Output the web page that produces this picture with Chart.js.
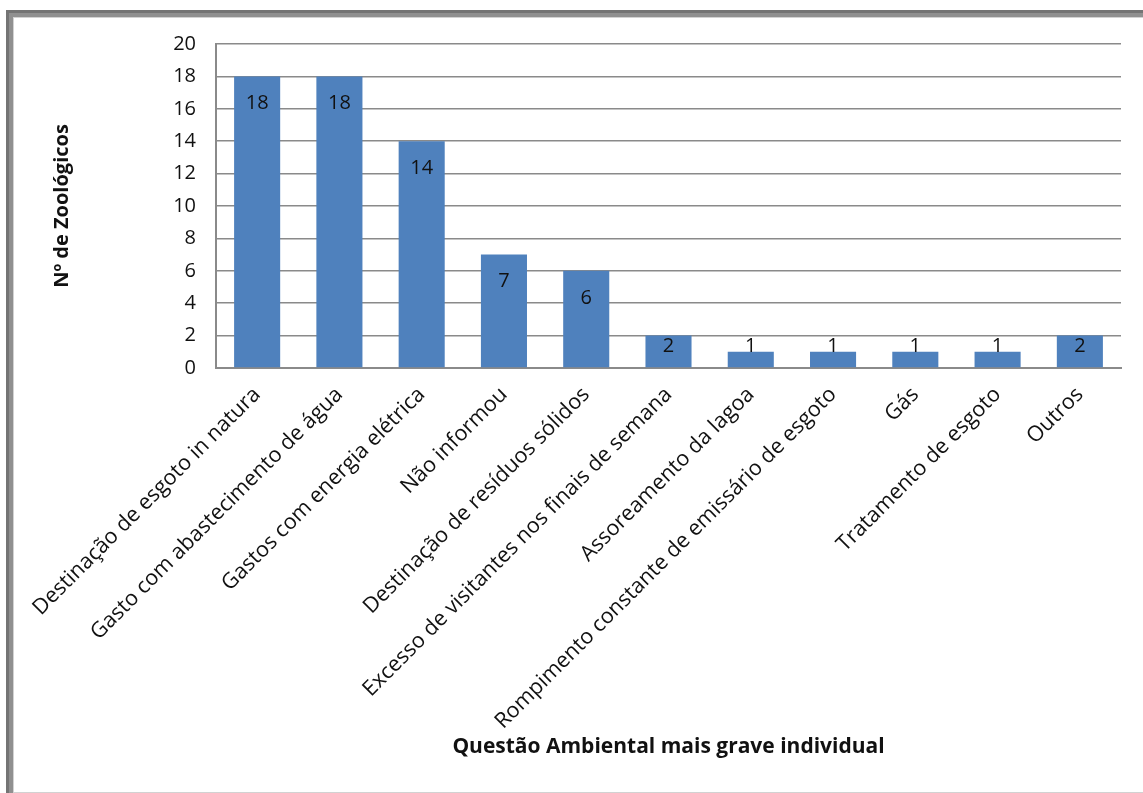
<!DOCTYPE html>
<html>
<head>
<meta charset="utf-8">
<script src="https://cdn.jsdelivr.net/npm/chart.js@4/dist/chart.umd.min.js"></script>
<style>
  html, body { margin: 0; padding: 0; background: #fff; }
  #wrap { position: relative; width: 1143px; height: 793px; overflow: hidden; }
  .f { position: absolute; box-sizing: border-box; }
  #chartBox { position: absolute; left: 0; top: 0; width: 1143px; height: 793px; }
</style>
</head>
<body>
<div id="wrap">
  <div class="f" style="left:6px;top:10px;width:1200px;height:800px;border-left:3px solid #747474;border-top:3px solid #747474;"></div>
  <div class="f" style="left:9px;top:13px;width:1200px;height:800px;border-left:4px solid #909090;border-top:4px solid #909090;"></div>
  <div class="f" style="left:13px;top:17px;width:1200px;height:776px;border-left:1px solid #d2d2d2;border-top:1px solid #d2d2d2;border-bottom:1px solid #d2d2d2;"></div>
  <div id="chartBox"><canvas id="c"></canvas></div>
</div>
<script>
const categories = [
  "Destinação de esgoto in natura",
  "Gasto com abastecimento de água",
  "Gastos com energia elétrica",
  "Não informou",
  "Destinação de resíduos sólidos",
  "Excesso de visitantes nos finais de semana",
  "Assoreamento da lagoa",
  "Rompimento constante de emissário de esgoto",
  "Gás",
  "Tratamento de esgoto",
  "Outros"
];
const values = [18, 18, 14, 7, 6, 2, 1, 1, 1, 1, 2];
const yTicks = [0, 2, 4, 6, 8, 10, 12, 14, 16, 18, 20];
const yTitle = "Nº de Zoológicos";
const xTitle = "Questão Ambiental mais grave individual";

const FONT = "'Open Sans', 'Liberation Sans', sans-serif";

const dataLabels = {
  id: 'dataLabels',
  afterDatasetsDraw(chart) {
    const ctx = chart.ctx;
    const meta = chart.getDatasetMeta(0);
    const y0 = chart.scales.y.getPixelForValue(0);
    ctx.save();
    ctx.font = "20px " + FONT;
    ctx.fillStyle = "#111";
    ctx.textAlign = "center";
    ctx.textBaseline = "middle";
    meta.data.forEach((bar, i) => {
      const y = Math.min(bar.y + 27, y0 - 22);
      ctx.fillText(String(values[i]), bar.x, y);
    });
    ctx.restore();
  }
};

new Chart(document.getElementById('c'), {
  type: 'bar',
  data: {
    labels: categories,
    datasets: [{
      data: values,
      backgroundColor: '#4F81BD',
      borderWidth: 0,
      categoryPercentage: 1.0,
      barPercentage: 0.56
    }]
  },
  options: {
    responsive: true,
    maintainAspectRatio: false,
    animation: false,
    events: [],
    layout: { padding: { left: 40, top: 44, right: 22, bottom: 30 } },
    plugins: { legend: { display: false }, tooltip: { enabled: false } },
    scales: {
      x: {
        grid: { display: false, drawTicks: false },
        border: { display: true, color: '#8a8a8a', width: 2 },
        ticks: {
          minRotation: 45, maxRotation: 45, autoSkip: false,
          padding: 14,
          color: '#111',
          font: { family: FONT, size: 21.5 }
        },
        title: {
          display: true, text: xTitle, color: '#111',
          font: { family: FONT, size: 21, weight: 'bold' },
          padding: { top: 0, bottom: 3 }
        },
        afterFit(scale) { scale.height = 395; }
      },
      y: {
        min: 0, max: 20,
        afterBuildTicks(scale) { scale.ticks = yTicks.map(v => ({ value: v })); },
        grid: { color: '#8a8a8a', lineWidth: 1.5, drawTicks: false },
        border: { display: true, color: '#8a8a8a', width: 2 },
        ticks: {
          padding: 20,
          color: '#111',
          font: { family: FONT, size: 20 }
        },
        title: {
          display: true, text: yTitle, color: '#111',
          font: { family: FONT, size: 20, weight: 'bold' },
          padding: { top: 10, bottom: 0 }
        },
        afterFit(scale) { scale.width = 176; }
      }
    }
  },
  plugins: [dataLabels]
});
</script>
</body>
</html>
